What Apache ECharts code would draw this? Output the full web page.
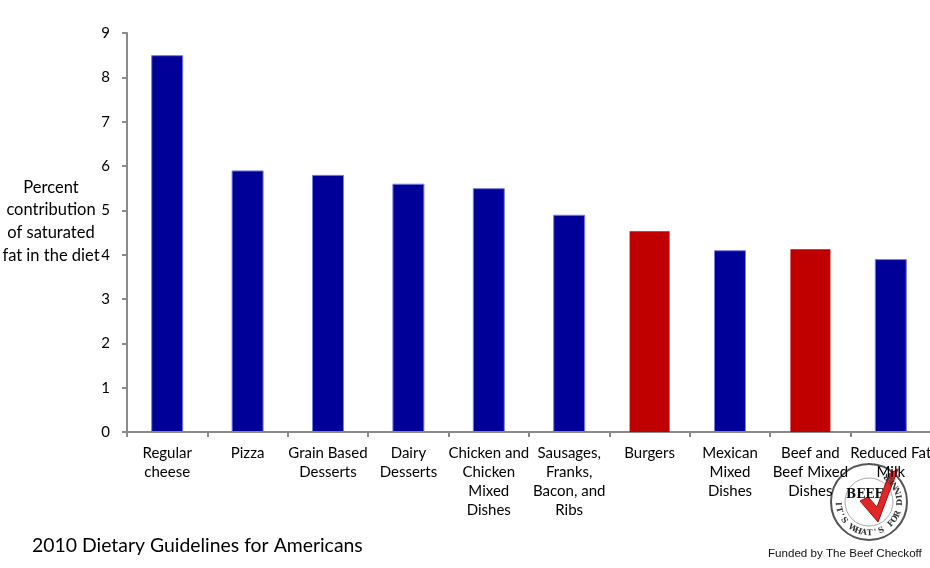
<!DOCTYPE html>
<html><head><meta charset="utf-8">
<script src="https://cdn.jsdelivr.net/npm/echarts@6/dist/echarts.min.js"></script>
<style>html,body{margin:0;padding:0;background:#fff}#c{width:930px;height:568px}</style>
</head><body><div id="c"></div>
<script>
const categories = ["Regular\ncheese","Pizza","Grain Based\nDesserts","Dairy\nDesserts","Chicken and\nChicken\nMixed\nDishes","Sausages,\nFranks,\nBacon, and\nRibs","Burgers","Mexican\nMixed\nDishes","Beef and\nBeef Mixed\nDishes","Reduced Fat\nMilk"];
const blueValues = [8.5, 5.9, 5.8, 5.6, 5.5, 4.9, null, 4.1, null, 3.9];
const redValues  = [null, null, null, null, null, null, 4.53, null, 4.12, null];
const yTicks = [0,1,2,3,4,5,6,7,8,9];
const yAxisTitle = "Percent\ncontribution\nof saturated\nfat in the diet";
const footerTitle = "2010 Dietary Guidelines for Americans";
const footerNote = "Funded by The Beef Checkoff";
const logoWord = "BEEF";
const logoSlogan = "IT'S WHAT'S FOR DINNER";

const font = "Lato, 'Open Sans', sans-serif";
const chart = echarts.init(document.getElementById('c'));

// decorative logo (circle badge)
const cx = 869, cy = 502, r = 38, tr = 31;
const logo = [
  {type:'circle',shape:{cx:cx,cy:cy,r:r},style:{fill:'none',stroke:'#555',lineWidth:2}},
  {type:'circle',shape:{cx:cx,cy:cy,r:r-14},style:{fill:'none',stroke:'#aaa',lineWidth:1}},
  {type:'polygon',shape:{points:[[860,501],[878,522],[898,469],[889,474],[877,507],[868,497]]},style:{fill:'#e02626',stroke:'#a01010',lineWidth:1}},
  {type:'text',x:846,y:489,style:{text:logoWord,fill:'#111',font:"bold 12px 'DejaVu Serif', serif"}}
];
const chars = logoSlogan.split('');
const a0 = Math.PI*0.98, a1 = -Math.PI*0.30;
chars.forEach((ch,i)=>{
  const t = a0 + (a1-a0)*i/(chars.length-1);
  logo.push({type:'text',x:cx+tr*Math.cos(t),y:cy+tr*Math.sin(t),rotation:Math.PI/2 - t,
    style:{text:ch,fill:'#333',font:"bold 8px 'DejaVu Serif', serif",align:'center',verticalAlign:'middle'}});
});

chart.setOption({
  animation:false,
  backgroundColor:'#fff',
  grid:{left:127,width:804,top:33,bottom:136,outerBoundsMode:'none',containLabel:false},
  xAxis:[{
    type:'category', data:categories,
    axisLine:{lineStyle:{color:'#8a8a8a',width:2}},
    axisTick:{show:true,length:5,lineStyle:{color:'#8a8a8a',width:2}},
    axisLabel:{interval:0,color:'#000',fontFamily:font,fontSize:15,lineHeight:19,margin:12}
  },{
    type:'category', data:categories, show:false
  }],
  yAxis:{
    type:'value', min:yTicks[0], max:yTicks[yTicks.length-1], interval:1,
    splitLine:{show:false},
    axisLine:{show:true,lineStyle:{color:'#8a8a8a',width:2}},
    axisTick:{show:true,length:5,lineStyle:{color:'#8a8a8a',width:2}},
    axisLabel:{color:'#000',fontFamily:font,fontSize:15,margin:17}
  },
  series:[{
    type:'bar', xAxisIndex:0, data:blueValues, barWidth:32,
    itemStyle:{color:'#000099',borderColor:'#7a7ae0',borderWidth:1}
  },{
    type:'bar', xAxisIndex:1, data:redValues, barWidth:40,
    itemStyle:{color:'#c00000'}
  }],
  graphic:[
    {type:'text',x:51,y:176,style:{text:yAxisTitle,fill:'#000',font:"16.5px "+font,align:'center',lineHeight:22.7}},
    {type:'text',x:32,y:536,style:{text:footerTitle,fill:'#000',font:"19.4px "+font}},
    {type:'text',x:768,y:548,style:{text:footerNote,fill:'#111',font:"11.6px 'Liberation Sans', Arial, sans-serif"}}
  ].concat(logo)
});
</script></body></html>
